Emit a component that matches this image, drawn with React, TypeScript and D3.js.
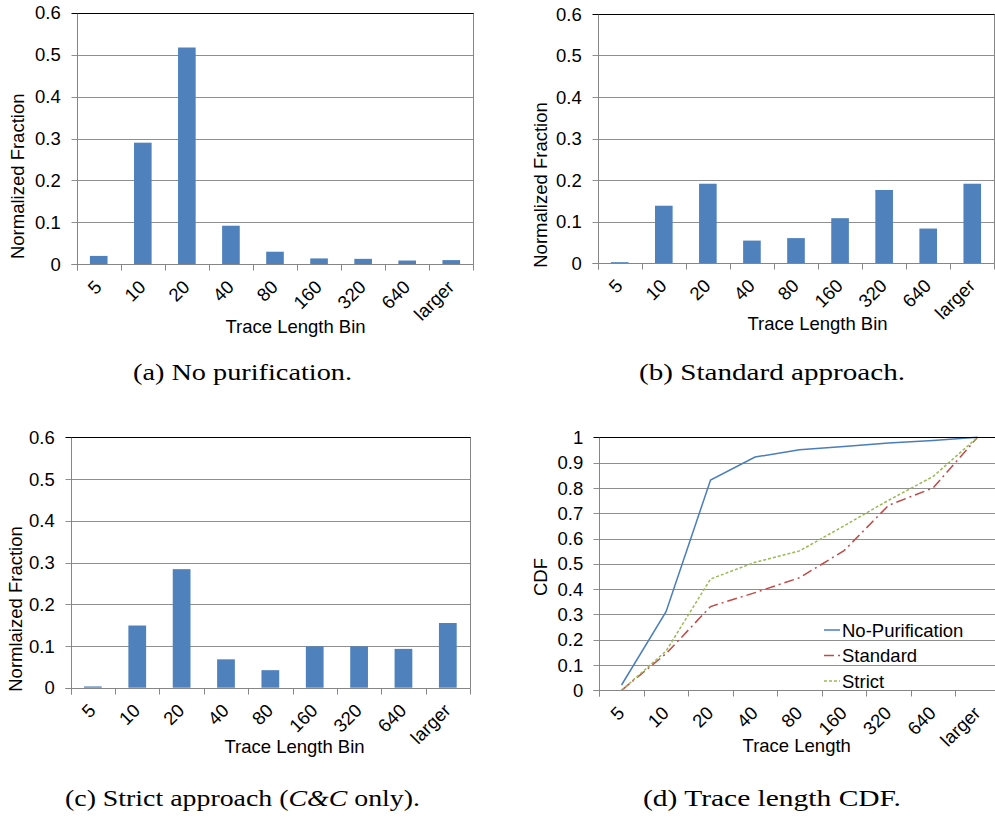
import React from "react";
import * as d3 from "d3";

// Trace length bins shared by all four panels
const categories = ["5", "10", "20", "40", "80", "160", "320", "640", "larger"];

// Normalized fraction of traces per bin
const noPurificationBars = [0.02, 0.29, 0.517, 0.092, 0.03, 0.014, 0.013, 0.009, 0.01];
const standardBars = [0.002, 0.138, 0.191, 0.054, 0.06, 0.108, 0.176, 0.083, 0.191];
const strictBars = [0.003, 0.149, 0.284, 0.068, 0.042, 0.099, 0.099, 0.093, 0.155];

// Cumulative distribution per approach
const noPurificationCdf = [0.021, 0.311, 0.831, 0.922, 0.951, 0.964, 0.977, 0.987, 1.0];
const standardCdf = [0.0, 0.145, 0.331, 0.386, 0.445, 0.552, 0.731, 0.8, 1.0];
const strictCdf = [0.0, 0.155, 0.44, 0.506, 0.551, 0.65, 0.751, 0.845, 1.0];

const barTicks = [0, 0.1, 0.2, 0.3, 0.4, 0.5, 0.6];
const cdfTicks = [0, 0.1, 0.2, 0.3, 0.4, 0.5, 0.6, 0.7, 0.8, 0.9, 1];

const SANS = "'Liberation Sans', Arial, Helvetica, sans-serif";
const SERIF = "'Liberation Serif', 'Times New Roman', serif";
const FS = 18.5;
const BAR_COLOR = "#4f81bd";
const GRID = "#8f8f8f";
const AXIS = "#868686";

type Box = { left: number; right: number; top: number; bottom: number };

const fmt = (v: number) => String(+v.toFixed(1));

function Frame(props: {
  box: Box;
  yMax: number;
  ticks: number[];
  yLabel: string;
  yLabelPos: [number, number];
  xLabel: string;
  xLabelPos: [number, number];
  children: (x: d3.ScaleBand<string>, y: d3.ScaleLinear<number, number>) => React.ReactNode;
}) {
  const { box, yMax, ticks, yLabel, yLabelPos, xLabel, xLabelPos } = props;
  const x = d3.scaleBand<string>().domain(categories).range([box.left, box.right]).paddingInner(0).paddingOuter(0);
  const y = d3.scaleLinear().domain([0, yMax]).range([box.bottom, box.top]);
  const bw = x.bandwidth();
  const edges = categories.map((c) => x(c) as number).concat([box.right]);
  const L = Math.round(box.left) + 0.5;
  const R = Math.round(box.right) + 0.5;
  const B = Math.round(box.bottom) + 0.5;
  const T = Math.round(box.top) + 0.5;
  return (
    <g>
      {ticks.map((t) => {
        const yy = Math.round(y(t)) + 0.5;
        return (
          <line key={"g" + t} x1={L - 6} x2={R} y1={yy} y2={yy} stroke={t === yMax ? "#000" : GRID} strokeWidth={1} />
        );
      })}
      <line x1={R} x2={R} y1={T} y2={B} stroke={AXIS} strokeWidth={1} />
      {props.children(x, y)}
      <line x1={L} x2={L} y1={T} y2={B + 6} stroke={AXIS} strokeWidth={1} />
      <line x1={L - 6} x2={R} y1={B} y2={B} stroke={AXIS} strokeWidth={1} />
      <line x1={L} x2={R} y1={T} y2={T} stroke="#000" strokeWidth={1} />
      {edges.map((e, i) => (
        <line key={"t" + i} x1={Math.round(e) + 0.5} x2={Math.round(e) + 0.5} y1={B} y2={B + 6} stroke={AXIS} strokeWidth={1} />
      ))}
      {ticks.map((t) => (
        <text key={"yl" + t} x={box.left - 16} y={y(t)} dy="0.36em" textAnchor="end" fontFamily={SANS} fontSize={FS} fill="#000">
          {fmt(t)}
        </text>
      ))}
      {categories.map((c) => {
        const cx = (x(c) as number) + bw / 2 + 4;
        const cy = box.bottom + 24;
        return (
          <text key={"xl" + c} transform={`translate(${cx},${cy}) rotate(-45)`} textAnchor="end" fontFamily={SANS} fontSize={FS} fill="#000">
            {c}
          </text>
        );
      })}
      <text
        transform={`translate(${yLabelPos[0]},${yLabelPos[1]}) rotate(-90)`}
        textAnchor="middle"
        dy="0.36em"
        fontFamily={SANS}
        fontSize={FS}
        fill="#000"
      >
        {yLabel}
      </text>
      <text x={xLabelPos[0]} y={xLabelPos[1]} textAnchor="middle" fontFamily={SANS} fontSize={FS} fill="#000">
        {xLabel}
      </text>
    </g>
  );
}

function BarPanel(props: {
  box: Box;
  values: number[];
  yLabel: string;
  yLabelPos: [number, number];
  xLabelPos: [number, number];
}) {
  return (
    <Frame
      box={props.box}
      yMax={0.6}
      ticks={barTicks}
      yLabel={props.yLabel}
      yLabelPos={props.yLabelPos}
      xLabel="Trace Length Bin"
      xLabelPos={props.xLabelPos}
    >
      {(x, y) =>
        categories.map((c, i) => {
          const bw = x.bandwidth();
          const w = bw * 0.4;
          const x0 = (x(c) as number) + (bw - w) / 2;
          const y0 = y(props.values[i]);
          return <rect key={c} x={x0} y={y0} width={w} height={y(0) - y0} fill={BAR_COLOR} />;
        })
      }
    </Frame>
  );
}

const cdfSeries = [
  { name: "No-Purification", values: noPurificationCdf, color: "#4a7ebb", dash: "none" },
  { name: "Standard", values: standardCdf, color: "#be4b48", dash: "10,4,2,4" },
  { name: "Strict", values: strictCdf, color: "#98b954", dash: "3,2" },
];

function CdfPanel(props: { box: Box }) {
  return (
    <Frame
      box={props.box}
      yMax={1}
      ticks={cdfTicks}
      yLabel="CDF"
      yLabelPos={[540.5, 577]}
      xLabel="Trace Length"
      xLabelPos={[796.7, 752.3]}
    >
      {(x, y) => {
        const bw = x.bandwidth();
        const line = d3
          .line<number>()
          .x((_, i) => (x(categories[i]) as number) + bw / 2)
          .y((v) => y(v));
        return (
          <g>
            {cdfSeries.map((s) => (
              <path key={s.name} d={line(s.values) || ""} fill="none" stroke={s.color} strokeWidth={1.5} strokeDasharray={s.dash} />
            ))}
            {cdfSeries.map((s, i) => {
              const ly = 630 + i * 25.5;
              return (
                <g key={"lg" + s.name}>
                  <line x1={824} x2={840} y1={ly} y2={ly} stroke={s.color} strokeWidth={1.5} strokeDasharray={s.dash} />
                  <text x={842} y={ly} dy="0.36em" fontFamily={SANS} fontSize={FS} fill="#000">
                    {s.name}
                  </text>
                </g>
              );
            })}
          </g>
        );
      }}
    </Frame>
  );
}

function Caption(props: { cx: number; y: number; width: number; children: React.ReactNode }) {
  return (
    <text
      x={props.cx - props.width / 2}
      y={props.y}
      textLength={props.width}
      lengthAdjust="spacingAndGlyphs"
      fontFamily={SERIF}
      fontSize={24}
      fill="#000"
    >
      {props.children}
    </text>
  );
}

export default function App() {
  return (
    <svg
      width={995}
      height={820}
      style={{ position: "absolute", left: 0, top: 0, background: "#fff" }}
      xmlns="http://www.w3.org/2000/svg"
    >
      <rect width={995} height={820} fill="#fff" />
      <BarPanel
        box={{ left: 76.7, right: 473.3, top: 12.7, bottom: 264.3 }}
        values={noPurificationBars}
        yLabel="Normalized Fraction"
        yLabelPos={[17.5, 176.3]}
        xLabelPos={[295.5, 332.5]}
      />
      <BarPanel
        box={{ left: 597.7, right: 994.3, top: 14, bottom: 263 }}
        values={standardBars}
        yLabel="Normalized Fraction"
        yLabelPos={[540.7, 185]}
        xLabelPos={[817.5, 330]}
      />
      <BarPanel
        box={{ left: 70.7, right: 470, top: 437.3, bottom: 687.7 }}
        values={strictBars}
        yLabel="Normlaized Fraction"
        yLabelPos={[15.5, 609]}
        xLabelPos={[294.5, 753.3]}
      />
      <CdfPanel box={{ left: 599.3, right: 999.8, top: 437.3, bottom: 690.3 }} />

      <Caption cx={242.5} y={380} width={219}>
        (a) No purification.
      </Caption>
      <Caption cx={772} y={380} width={266}>
        (b) Standard approach.
      </Caption>
      <Caption cx={242.5} y={806} width={355}>
        (c) Strict approach (<tspan fontStyle="italic">C&amp;C</tspan> only).
      </Caption>
      <Caption cx={772} y={806} width={258}>
        (d) Trace length CDF.
      </Caption>
    </svg>
  );
}
